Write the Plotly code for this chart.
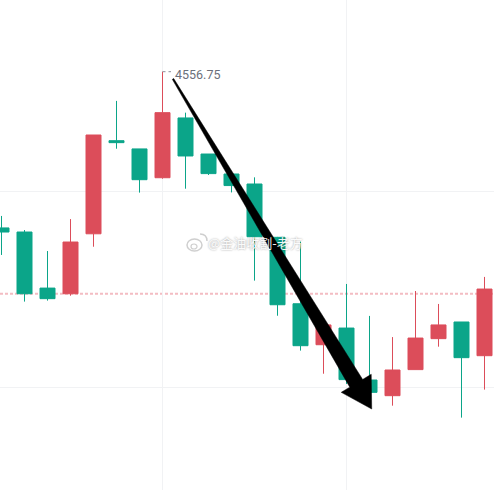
import numpy as np
import plotly.graph_objects as go

W, H = 494, 490

# candle data (index based x axis)
opens = [4548.78, 4548.57, 4545.71, 4545.42, 4548.48, 4553.23, 4552.81, 4551.34,
         4554.39, 4552.55, 4551.53, 4551.02, 4548.30, 4544.91, 4542.82, 4543.67,
         4541.02, 4540.22, 4541.55, 4543.13, 4543.98, 4542.26]
highs = [4549.39, 4548.67, 4547.60, 4549.23, 4553.52, 4555.26, 4552.81, 4556.75,
         4554.66, 4552.55, 4551.53, 4551.36, 4548.32, 4548.08, 4544.18, 4545.92,
         4544.29, 4543.21, 4545.56, 4544.90, 4543.98, 4546.28]
lows = [4547.40, 4545.02, 4545.07, 4545.32, 4547.82, 4552.82, 4550.58, 4551.29,
        4550.78, 4551.48, 4550.59, 4546.09, 4544.30, 4542.52, 4541.34, 4540.82,
        4540.39, 4539.71, 4541.55, 4542.72, 4539.10, 4540.53]
closes = [4548.57, 4545.42, 4545.17, 4548.06, 4553.52, 4553.13, 4551.24, 4554.66,
          4552.45, 4551.55, 4550.94, 4548.33, 4544.86, 4542.77, 4543.83, 4541.04,
          4540.39, 4541.53, 4543.16, 4543.83, 4542.16, 4545.66]

high_label = "4556.75"
high_idx = 7
last_price_line = 4545.42
grid_prices = [4550.66, 4540.65]
grid_bars = [7, 15]
watermark = "@金油收割-老方"

# arrow drawn on the chart: start under the high label, tip near bar 16
arrow_from = (7.457, 4556.38)
arrow_to = (16.096, 4539.54)

x_range = [-0.0652, 21.413]
y_range = [4535.408, 4560.408]

UP = "#dc4d5a"
DOWN = "#0ba589"

x = np.arange(len(opens))

fig = go.Figure()
fig.add_trace(go.Candlestick(
    x=x, open=opens, high=highs, low=lows, close=closes,
    increasing=dict(line=dict(color=UP, width=1), fillcolor=UP),
    decreasing=dict(line=dict(color=DOWN, width=1), fillcolor=DOWN),
    whiskerwidth=0,
    hoverinfo="skip",
))

# helpers: data <-> pixel
sx = W / (x_range[1] - x_range[0])
sy = H / (y_range[1] - y_range[0])


def to_px(p):
    return np.array([(p[0] - x_range[0]) * sx, (y_range[1] - p[1]) * sy])


def to_data(p):
    return (p[0] / sx + x_range[0], y_range[1] - p[1] / sy)


# tapered arrow polygon
s = to_px(arrow_from)
t = to_px(arrow_to)
d = t - s
u = d / np.linalg.norm(d)
n = np.array([-u[1], u[0]])
head_len, head_half = 30, 17.5
w0, w1 = 0.8, 7.5
b = t - head_len * u
pts = [s + w0 * n, b + w1 * n, b + head_half * n, t, b - head_half * n, b - w1 * n, s - w0 * n]
path = "M " + " L ".join("{:.4f},{:.4f}".format(*to_data(p)) for p in pts) + " Z"
fig.add_shape(type="path", path=path, xref="x", yref="y",
              fillcolor="black", line=dict(color="black", width=0.5), layer="above")

# last price line
fig.add_shape(type="line", xref="paper", yref="y", x0=0, x1=1,
              y0=last_price_line, y1=last_price_line,
              line=dict(color="#f3bcc2", width=2, dash="3px,2px"), layer="below")

# dotted leader + high label
fig.add_shape(type="line", xref="x", yref="y", x0=high_idx, x1=high_idx + 0.37,
              y0=highs[high_idx], y1=highs[high_idx],
              line=dict(color="#8a8e99", width=1, dash="dot"))
fig.add_annotation(x=high_idx, y=highs[high_idx], text=high_label, showarrow=False,
                   xanchor="left", yanchor="middle", xshift=10, yshift=-3,
                   font=dict(family="Roboto", size=12.5, color="#6b6f7b"))

# watermark
fig.add_annotation(x=255 / W, y=1 - 243 / H, xref="paper", yref="paper",
                   text=watermark, showarrow=False,
                   font=dict(family="Noto Sans CJK SC", size=13, color="rgba(255,255,255,0.95)",
                             shadow="0px 0px 2px rgba(0,0,0,0.45)"))
fig.add_shape(type="circle", xref="paper", yref="paper",
              x0=187 / W, x1=202 / W, y0=1 - 251 / H, y1=1 - 239 / H,
              line=dict(color="#cfcfcf", width=1.5), fillcolor="rgba(255,255,255,0.8)")
fig.add_shape(type="circle", xref="paper", yref="paper",
              x0=191 / W, x1=197 / W, y0=1 - 249 / H, y1=1 - 244 / H,
              line=dict(color="#cfcfcf", width=1.2))
fig.add_shape(type="path", xref="paper", yref="paper",
              path="M {:.4f},{:.4f} Q {:.4f},{:.4f} {:.4f},{:.4f}".format(
                  200 / W, 1 - 234 / H, 207 / W, 1 - 234 / H, 207 / W, 1 - 241 / H),
              line=dict(color="#cfcfcf", width=1.5))

fig.update_layout(
    width=W, height=H,
    margin=dict(l=0, r=0, t=0, b=0),
    paper_bgcolor="white", plot_bgcolor="white",
    showlegend=False,
    hovermode=False,
    boxgap=0.348, boxgroupgap=0,
)
fig.update_xaxes(range=x_range, rangeslider_visible=False, showticklabels=False,
                 tickvals=grid_bars, showgrid=True, gridcolor="#f1f2f4", gridwidth=1,
                 zeroline=False, showline=False, ticks="")
fig.update_yaxes(range=y_range, showticklabels=False, tickvals=grid_prices,
                 showgrid=True, gridcolor="#f1f2f4", gridwidth=1,
                 zeroline=False, showline=False, ticks="")

fig.write_html("out.html", config={"displayModeBar": False},
               post_script="document.body.style.margin='0';document.body.style.overflow='hidden';")
